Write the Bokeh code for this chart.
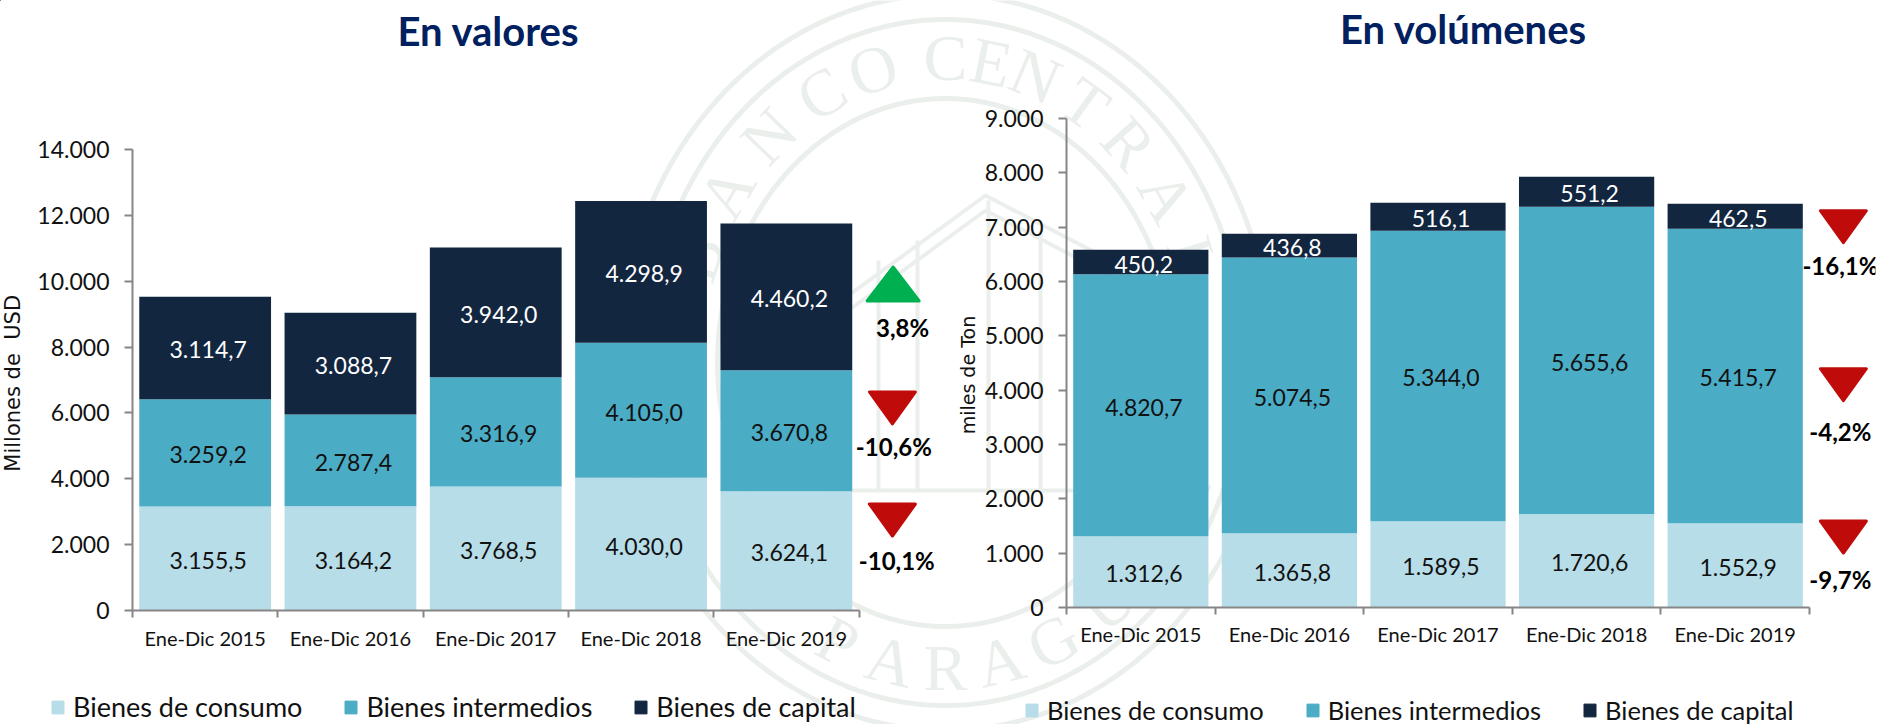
import math
import numpy as np
from bokeh.core.properties import value
from bokeh.embed import file_html
from bokeh.layouts import column
from bokeh.models import (ColumnDataSource, FixedTicker, Legend, LegendItem, LinearAxis, Range1d)
from bokeh.plotting import figure
from bokeh.resources import INLINE

categories = ["Ene-Dic 2015", "Ene-Dic 2016", "Ene-Dic 2017", "Ene-Dic 2018", "Ene-Dic 2019"]
series_names = ["Bienes de consumo", "Bienes intermedios", "Bienes de capital"]

val_consumo = [3155.5, 3164.2, 3768.5, 4030.0, 3624.1]
val_intermedios = [3259.2, 2787.4, 3316.9, 4105.0, 3670.8]
val_capital = [3114.7, 3088.7, 3942.0, 4298.9, 4460.2]

vol_consumo = [1312.6, 1365.8, 1589.5, 1720.6, 1552.9]
vol_intermedios = [4820.7, 5074.5, 5344.0, 5655.6, 5415.7]
vol_capital = [450.2, 436.8, 516.1, 551.2, 462.5]

val_ticks = [0, 2000, 4000, 6000, 8000, 10000, 12000, 14000]
vol_ticks = [0, 1000, 2000, 3000, 4000, 5000, 6000, 7000, 8000, 9000]

val_changes = ["-10,1%", "-10,6%", "3,8%"]
vol_changes = ["-9,7%", "-4,2%", "-16,1%"]

COLORS = ["#B7DDE8", "#4BACC6", "#12263F"]
LBL = ["#111111", "#111111", "#FFFFFF"]
FONT = "Lato"
AXC = "#868686"


def es(v, dec=0):
    s = f"{v:,.{dec}f}"
    return s.replace(",", "X").replace(".", ",").replace("X", ".")


def make(ylabel, yl_size, series, ticks, changes, fw, fh, fl, fr, ft, fb, unit, bar_w,
         margin, tri_spec, lab_spec, lab_dx, st):
    p = figure(frame_width=fw, frame_height=fh, output_backend="svg", toolbar_location=None,
               x_range=Range1d(0, fw / unit), y_range=Range1d(0, ticks[-1]),
               min_border_left=fl, min_border_right=fr, min_border_top=ft, min_border_bottom=fb,
               background_fill_alpha=0, border_fill_alpha=0, outline_line_color=None,
               x_axis_type=None, y_axis_type=None, margin=margin, frame_align=False)
    p.grid.visible = False
    ypx = fh / ticks[-1]

    src = ColumnDataSource(dict(x=[i + 0.5 for i in range(5)],
                                **{n: s for n, s in zip(series_names, series)}))
    p.vbar_stack(series_names, x="x", width=bar_w, color=COLORS, line_color=None, source=src)

    base = np.zeros(5)
    for s, c in zip(series, LBL):
        arr = np.array(s)
        mid = base + arr / 2
        base = base + arr
        ls = ColumnDataSource(dict(x=[i + 0.5 for i in range(5)], y=mid, t=[es(v, 1) for v in s]))
        p.text("x", "y", text="t", source=ls, text_font=value(FONT), text_font_size="23px",
               text_color=c, text_align="center", text_baseline="middle", x_offset=lab_dx, y_offset=2)

    # variation markers and their percentages
    for (cx, cy, up, hw, hh) in tri_spec:
        col = "#00B050" if up else "#C00B0B"
        dx, dy = hw / unit, hh / ypx
        ys = [cy - dy, cy - dy, cy + dy] if up else [cy + dy, cy + dy, cy - dy]
        p.patch([cx - dx, cx + dx, cx], ys, fill_color=col, line_color=col, line_width=3, line_join="round")
    cs = ColumnDataSource(dict(x=[l[0] for l in lab_spec], y=[l[1] for l in lab_spec], t=changes))
    p.text("x", "y", text="t", source=cs, text_font=value(FONT), text_font_size="24px",
           text_font_style="bold", text_color="#000000", text_align="center", text_baseline="middle")

    yax = LinearAxis(ticker=FixedTicker(ticks=ticks),
                     major_label_overrides={t: es(t) for t in ticks},
                     axis_label=ylabel, axis_label_text_font="DejaVu Sans", axis_label_text_font_size=yl_size,
                     axis_label_text_font_style="normal", axis_label_text_color="#111111",
                     axis_label_standoff=st["yl"],
                     major_label_text_font=FONT, major_label_text_font_size="23px",
                     major_label_text_color="#111111", major_label_standoff=st["y"],
                     major_tick_out=8, major_tick_in=0, minor_tick_out=0, minor_tick_in=0,
                     axis_line_color=AXC, major_tick_line_color=AXC, axis_line_width=2, major_tick_line_width=2)
    p.add_layout(yax, "left")
    xax = LinearAxis(ticker=FixedTicker(ticks=[i + 0.5 for i in range(5)], minor_ticks=list(range(6))),
                     major_label_overrides={i + 0.5: c for i, c in enumerate(categories)},
                     major_label_text_font=FONT, major_label_text_font_size="20px",
                     major_label_text_color="#111111", major_label_standoff=st["x"],
                     major_tick_out=0, major_tick_in=0, minor_tick_out=7, minor_tick_in=0,
                     axis_line_color=AXC, minor_tick_line_color=AXC, axis_line_width=2, minor_tick_line_width=2,
                     bounds=(0, 5))
    p.add_layout(xax, "below")
    return p


# page-wide layer: faint seal, chart titles and legends, behind both charts
seal_c = "#EBEFEC"
bg = figure(width=1880, height=724, output_backend="svg", toolbar_location=None,
            x_range=Range1d(0, 1880), y_range=Range1d(724, 0), x_axis_type=None, y_axis_type=None,
            min_border=0, outline_line_color=None, background_fill_color="#FFFFFF", border_fill_color="#FFFFFF",
            margin=(0, 0, 0, 0), frame_align=False)
bg.grid.visible = False
CX, CY = 945, 362
th = np.linspace(0, 2 * np.pi, 361)
for ra, rb, w in [(326, 368, 5), (299, 343, 5), (228, 264, 5)]:
    bg.line(CX + ra * np.cos(th), CY + rb * np.sin(th), line_color=seal_c, line_width=w)


def seal_letters(word, angles, sign):
    for ch, deg in zip(word, angles):
        t = math.radians(deg)
        rot = math.atan2(305 * math.sin(t), 264 * math.cos(t))
        bg.text([CX + 264 * math.sin(t)], [CY - sign * 305 * math.cos(t)], text=[ch], angle=[-sign * rot],
                text_align="center", text_baseline="middle", text_font=value("Liberation Serif"),
                text_font_size="66px", text_color=seal_c)


seal_letters("BANCOCENTRAL", [-70, -56, -42, -28, -16, 0, 10, 20, 32, 44, 57, 70], 1)
seal_letters("PARAGUAY", [-24, -12, 0, 12, 24, 38, 52, 66], -1)
for xs, ys in [([800, 985, 1110], [330, 195, 260]), ([800, 985, 1110], [345, 210, 275]),
               ([878, 878], [260, 490]), ([917, 917], [240, 490]), ([988, 988], [200, 490]), ([1040, 1040], [230, 490]),
               ([830, 1090], [490, 490])]:
    bg.line(xs, ys, line_color=seal_c, line_width=4)

for t, tx, ty in [("En valores", 488, 30), ("En volúmenes", 1463, 28)]:
    bg.text([tx], [ty], text=[t], text_font=value(FONT), text_font_size="40px", text_font_style="bold",
            text_color="#002060", text_align="center", text_baseline="middle")

for loc, sp, fs in [((50, 1), 41, "27px"), ((1024, -1), 41, "25.5px")]:
    items = []
    for n, c in zip(series_names, COLORS):
        r = bg.vbar(x=[0], top=[0], width=1, color=c)
        items.append(LegendItem(label=n, renderers=[r]))
    bg.add_layout(Legend(items=items, location=loc, orientation="horizontal", background_fill_alpha=0,
                         border_line_color=None, label_text_font=FONT, label_text_font_size=fs,
                         label_text_color="#111111", glyph_width=15, glyph_height=16, label_standoff=8,
                         spacing=sp, padding=0, margin=0), "center")

# variation marker placement, in each chart's own axis units
left = make("Millones de \u00a0USD\u00a0", "21px", [val_consumo, val_intermedios, val_capital], val_ticks, val_changes,
            805, 461, 135, 5, 149, 114, 145.3, 0.907, (-724, 0, 0, -3),
            [(5.23, 2748, False, 23, 16), (5.23, 6150, False, 23, 16), (5.235, 9915, True, 26, 17)],
            [(5.26, 1518), (5.24, 4980), (5.30, 8594)], 3,
            dict(y=15, yl=9, x=8))
right = make("miles de Ton\u00a0\u00a0\u00a0\u00a0", "19px", [vol_consumo, vol_intermedios, vol_capital], vol_ticks, vol_changes,
             809, 489, 122, 4, 118, 117, 148.6, 0.91, (-724, 0, 0, 944),
             [(5.228, 1297, False, 23, 16), (5.228, 4101, False, 23, 16), (5.228, 7008, False, 23, 16)],
             [(5.208, 515), (5.208, 3237), (5.208, 6290)], 3,
             dict(y=15, yl=3, x=7))

root = column(bg, left, right)
open("out.html", "w").write(file_html(root, INLINE))
